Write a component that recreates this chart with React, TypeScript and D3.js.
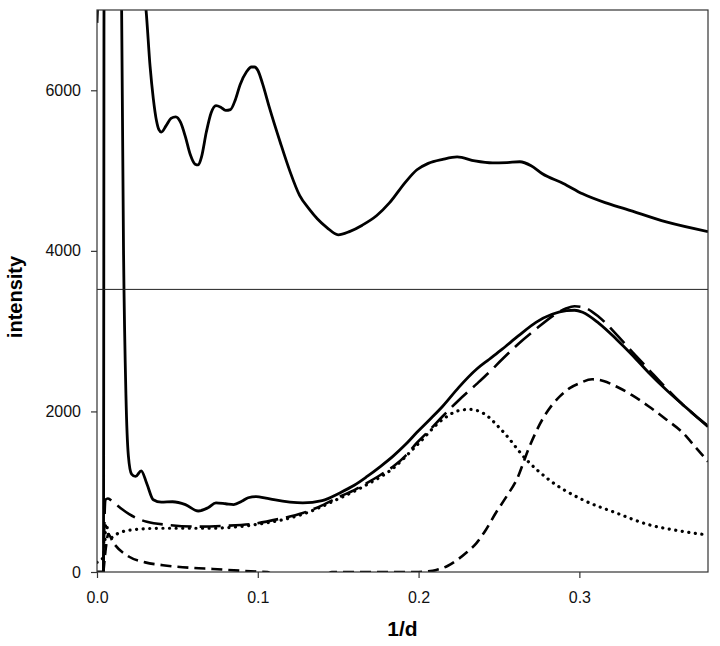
import * as d3 from "d3";
import { useEffect, useRef } from "react";

// upper panel curve (solid)
const upperX = [0, 0.0015, 0.028, 0.0305, 0.033, 0.035, 0.037, 0.0385, 0.04, 0.043, 0.046, 0.049, 0.052, 0.055, 0.058, 0.061, 0.063, 0.065, 0.068, 0.071, 0.074, 0.077, 0.08, 0.083, 0.086, 0.089, 0.093, 0.096, 0.098, 0.1, 0.103, 0.107, 0.114, 0.12, 0.126, 0.132, 0.137, 0.143, 0.15, 0.157, 0.165, 0.174, 0.182, 0.192, 0.199, 0.206, 0.215, 0.224, 0.235, 0.246, 0.255, 0.263, 0.27, 0.277, 0.29, 0.302, 0.316, 0.329, 0.354, 0.38];
const upperY = [6840, 7400, 7400, 7000, 6300, 5900, 5620, 5510, 5480, 5560, 5650, 5670, 5600, 5420, 5200, 5080, 5070, 5170, 5480, 5720, 5810, 5790, 5750, 5760, 5880, 6070, 6230, 6290, 6290, 6250, 6080, 5800, 5350, 4990, 4690, 4520, 4400, 4290, 4200, 4240, 4320, 4440, 4600, 4860, 5010, 5090, 5140, 5170, 5120, 5095, 5100, 5110, 5060, 4960, 4840, 4710, 4600, 4520, 4360, 4240];

// measured intensity (solid)
const dataX = [0, 0.004, 0.0045, 0.014, 0.0152, 0.0165, 0.018, 0.0195, 0.0215, 0.024, 0.0275, 0.031, 0.035, 0.04, 0.047, 0.055, 0.063, 0.069, 0.074, 0.08, 0.085, 0.09, 0.094, 0.099, 0.105, 0.11, 0.12, 0.128, 0.14, 0.151, 0.16, 0.168, 0.176, 0.184, 0.192, 0.199, 0.207, 0.215, 0.225, 0.236, 0.244, 0.252, 0.262, 0.273, 0.283, 0.292, 0.297, 0.302, 0.312, 0.323, 0.333, 0.343, 0.354, 0.364, 0.372, 0.38];
const dataY = [0, 0, 9000, 9000, 7300, 4000, 2200, 1450, 1220, 1190, 1260, 1100, 900, 870, 875, 840, 760, 800, 860, 850, 840, 880, 925, 940, 920, 900, 870, 860, 890, 985, 1080, 1190, 1310, 1440, 1590, 1740, 1900, 2065, 2300, 2525, 2650, 2775, 2940, 3110, 3210, 3255, 3260, 3235, 3100, 2900, 2700, 2485, 2270, 2090, 1950, 1810];

// total fit (long dash)
const fitX = [0.004, 0.0052, 0.0068, 0.01, 0.015, 0.02, 0.031, 0.045, 0.062, 0.08, 0.097, 0.113, 0.128, 0.14, 0.151, 0.16, 0.168, 0.176, 0.184, 0.192, 0.199, 0.207, 0.215, 0.225, 0.236, 0.244, 0.252, 0.262, 0.273, 0.285, 0.292, 0.297, 0.302, 0.312, 0.323, 0.333, 0.343, 0.354, 0.364, 0.372, 0.38];
const fitY = [0, 900, 915, 870, 790, 720, 625, 585, 565, 575, 600, 660, 735, 830, 940, 1020, 1110, 1205, 1310, 1450, 1610, 1770, 1940, 2140, 2340, 2490, 2650, 2840, 3025, 3210, 3285, 3310, 3300, 3180, 2960, 2740, 2525, 2290, 2090, 1950, 1820];

// component 1 (dotted)
const dotX = [0, 0.0045, 0.0055, 0.008, 0.012, 0.02, 0.04, 0.07, 0.1, 0.128, 0.151, 0.168, 0.184, 0.199, 0.215, 0.225, 0.232, 0.24, 0.252, 0.267, 0.281, 0.302, 0.323, 0.343, 0.36, 0.38];
const dotY = [120, 200, 600, 420, 470, 520, 545, 545, 595, 720, 920, 1090, 1290, 1580, 1900, 2010, 2025, 1980, 1760, 1400, 1150, 900, 735, 590, 520, 460];

// component 2 (short dash)
const dashX = [0.004, 0.0055, 0.007, 0.01, 0.02, 0.03, 0.041, 0.06, 0.072, 0.09, 0.1, 0.106, 0.112, 0.14, 0.146, 0.2, 0.206, 0.211, 0.218, 0.224, 0.23, 0.236, 0.242, 0.248, 0.255, 0.261, 0.269, 0.277, 0.283, 0.288, 0.294, 0.3, 0.308, 0.315, 0.323, 0.333, 0.343, 0.354, 0.364, 0.372, 0.38];
const dashY = [0, 300, 470, 370, 190, 120, 85, 50, 38, 15, 5, 0, -80, -80, 0, 0, 8, 25, 75, 150, 245, 360, 530, 735, 950, 1150, 1565, 1900, 2080, 2190, 2290, 2350, 2400, 2380, 2310, 2200, 2065, 1900, 1740, 1560, 1375];

const xTicks = [0, 0.1, 0.2, 0.3];
const yTicks = [0, 2000, 4000, 6000];
const splitLevel = 3520;

const zip = (xs: number[], ys: number[]) => xs.map((x, i) => [x, ys[i]] as [number, number]);

const App = () => {
    const ref = useRef<SVGSVGElement>(null);
    const margin = { top: 10, right: 12, bottom: 74, left: 97 };
    const W = 720;
    const H = 646;
    const width = W - margin.left - margin.right;
    const height = H - margin.top - margin.bottom;

    useEffect(() => {
        const svg = d3.select(ref.current);
        svg.selectAll("*").remove();

        const x = d3.scaleLinear().domain([0, 0.38]).range([0, width]);
        const y = d3.scaleLinear().domain([0, 7000]).range([height, 0]);

        const g = svg.append("g").attr("transform", `translate(${margin.left},${margin.top})`);

        g.append("clipPath").attr("id", "plotclip")
            .append("rect").attr("width", width).attr("height", height);

        const line = d3.line<[number, number]>()
            .x(d => x(d[0]))
            .y(d => y(d[1]))
            .curve(d3.curveMonotoneX);

        const series = [
            { pts: zip(dashX, dashY), dash: "11 6", w: 2.6, cap: "butt" },
            { pts: zip(dotX, dotY), dash: "0.1 6.5", w: 3.2, cap: "round" },
            { pts: zip(fitX, fitY), dash: "21 8", w: 2.6, cap: "butt" },
            { pts: zip(dataX, dataY), dash: null, w: 2.8, cap: "butt" },
            { pts: zip(upperX, upperY), dash: null, w: 2.8, cap: "butt" },
        ];

        const lines = g.append("g").attr("clip-path", "url(#plotclip)");
        series.forEach(s => {
            lines.append("path")
                .attr("d", line(s.pts))
                .attr("fill", "none")
                .attr("stroke", "#000")
                .attr("stroke-width", s.w)
                .attr("stroke-linecap", s.cap)
                .attr("stroke-linejoin", "round")
                .attr("stroke-dasharray", s.dash);
        });

        // separator between panels
        g.append("line")
            .attr("x1", 0).attr("x2", width)
            .attr("y1", y(splitLevel)).attr("y2", y(splitLevel))
            .attr("stroke", "#222").attr("stroke-width", 1);

        // frame
        g.append("rect")
            .attr("width", width).attr("height", height)
            .attr("fill", "none").attr("stroke", "#333").attr("stroke-width", 1.2);

        const xAxis = d3.axisBottom(x).tickValues(xTicks).tickFormat(d3.format(".1f")).tickSize(6).tickPadding(14);
        const yAxis = d3.axisLeft(y).tickValues(yTicks).tickFormat(d3.format("d")).tickSize(6).tickPadding(10);

        const xa = g.append("g").attr("transform", `translate(0,${height})`).call(xAxis);
        const ya = g.append("g").call(yAxis);
        [xa, ya].forEach(a => {
            a.select(".domain").remove();
            a.selectAll("line").attr("stroke", "#333").attr("stroke-width", 1.2);
            a.selectAll("text")
                .attr("fill", "#111")
                .style("font-family", "'Liberation Sans', Arial, sans-serif")
                .style("font-size", "16px");
        });

        svg.append("text")
            .attr("x", margin.left + width / 2)
            .attr("y", 636)
            .attr("text-anchor", "middle")
            .style("font-family", "'Liberation Sans', Arial, sans-serif")
            .style("font-weight", "bold")
            .style("font-size", "21px")
            .text("1/d");

        svg.append("text")
            .attr("transform", "translate(22,297) rotate(-90)")
            .attr("text-anchor", "middle")
            .style("font-family", "'Liberation Sans', Arial, sans-serif")
            .style("font-weight", "bold")
            .style("font-size", "20px")
            .text("intensity");
    }, []);

    return (
        <svg ref={ref} width={W} height={H}
            style={{ position: "absolute", left: 0, top: 0, background: "#fff" }}>
        </svg>
    );
};

export default App;
